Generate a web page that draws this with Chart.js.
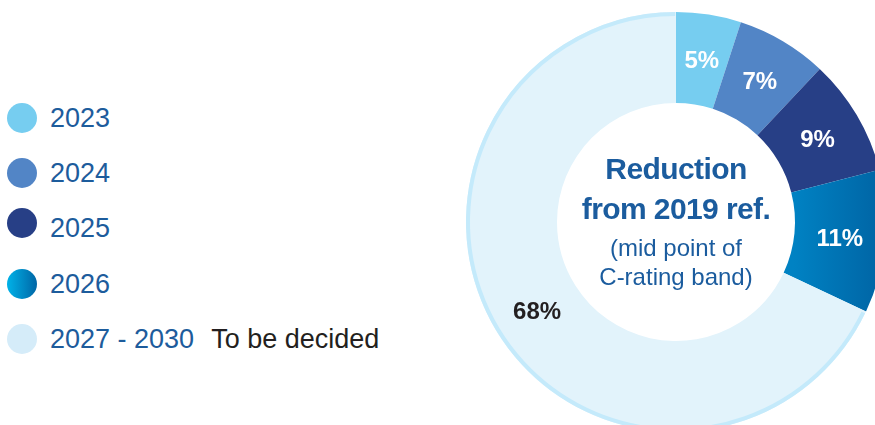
<!DOCTYPE html>
<html>
<head>
<meta charset="utf-8">
<script src="https://cdn.jsdelivr.net/npm/chart.js@4.4.0/dist/chart.umd.min.js"></script>
<style>
  html, body { margin: 0; padding: 0; background: #fff; overflow: hidden; width: 875px; height: 425px; }
  body { position: relative; font-family: "Liberation Sans", Arial, sans-serif; }
  #wrap { position: absolute; left: 456px; top: 2px; width: 440px; height: 440px; }
  #legend { position: absolute; left: 0; top: 0; }
  .item { position: absolute; left: 7px; height: 30px; white-space: nowrap; }
  .dot { position: absolute; left: 0; top: 0; width: 30px; height: 30px; border-radius: 50%; }
  .lbl { position: absolute; left: 43px; top: 0; line-height: 30px; font-size: 27px; color: #1d5c9c; }
  .note { color: #231f20; margin-left: 17px; }
</style>
</head>
<body>
<div id="legend"></div>
<div id="wrap"><canvas id="donut" width="440" height="440"></canvas></div>
<script>
// ---- data ----
const years = ["2023", "2024", "2025", "2026", "2027 - 2030"];
const shares = [5, 7, 9, 11, 68];
const notes = ["", "", "", "", "To be decided"];
const centerLines = ["Reduction", "from 2019 ref.", "(mid point of", "C-rating band)"];

// ---- colours ----
const sliceColors = ["#76cdf0", "#5285c6", "#273f86", null, "#e2f3fb"];
const legendColors = ["#76cdf0", "#5285c6", "#273f86",
  "linear-gradient(90deg, #00b2e8, #0066a6)", "#d5ecf9"];
const labelColors = ["#fff", "#fff", "#fff", "#fff", "#231f20"];
const legendY = [103, 158, 208, 269, 324];

// Legend (html, left side)
const legend = document.getElementById("legend");
years.forEach((y, i) => {
  const it = document.createElement("div");
  it.className = "item";
  it.style.top = legendY[i] + "px";
  it.innerHTML = '<div class="dot" style="background:' + legendColors[i] + '"></div>' +
    '<div class="lbl" style="top:' + (i === 2 ? 5 : 0) + 'px">' + y +
    (notes[i] ? '<span class="note">' + notes[i] + '</span>' : '') + '</div>';
  legend.appendChild(it);
});

function sliceBg(ctx) {
  const i = ctx.dataIndex;
  if (sliceColors[i]) return sliceColors[i];
  const area = ctx.chart.chartArea;
  if (!area) return "#0077b8";
  const g = ctx.chart.ctx.createLinearGradient(area.left + area.width * 0.78, 0, area.right, 0);
  g.addColorStop(0, "#0082c3");
  g.addColorStop(1, "#0063a3");
  return g;
}

// rim on the big slice + percentage labels + centre text
const extras = {
  id: "extras",
  afterDatasetsDraw(chart) {
    const c = chart.ctx;
    const arcs = chart.getDatasetMeta(0).data;
    const big = arcs[4];
    c.save();
    c.strokeStyle = "#c4eafb";
    c.lineWidth = 4;
    c.beginPath();
    c.arc(big.x, big.y, big.outerRadius - 2, big.startAngle + 0.01, big.endAngle - 0.004);
    c.stroke();

    c.textAlign = "center";
    c.textBaseline = "middle";
    c.font = "bold 24px 'Liberation Sans', Arial, sans-serif";
    arcs.forEach((a, i) => {
      const p = a.tooltipPosition();
      c.fillStyle = labelColors[i];
      c.fillText(shares[i] + "%", p.x, p.y + 2);
    });

    const cx = big.x, cy = big.y;
    c.fillStyle = "#1b5c9e";
    c.font = "bold 30px 'Liberation Sans', Arial, sans-serif";
    c.letterSpacing = "-0.6px";
    c.fillText(centerLines[0], cx, cy - 51);
    c.fillText(centerLines[1], cx, cy - 11);
    c.letterSpacing = "0px";
    c.font = "24px 'Liberation Sans', Arial, sans-serif";
    c.fillText(centerLines[2], cx, cy + 27);
    c.fillText(centerLines[3], cx, cy + 56);
    c.restore();
  }
};

new Chart(document.getElementById("donut"), {
  type: "doughnut",
  data: {
    labels: years,
    datasets: [{
      data: shares,
      backgroundColor: sliceBg,
      borderWidth: 0
    }]
  },
  options: {
    responsive: false,
    animation: false,
    cutout: 119,
    layout: { padding: 10 },
    plugins: { legend: { display: false }, tooltip: { enabled: false } }
  },
  plugins: [extras]
});
</script>
</body>
</html>
